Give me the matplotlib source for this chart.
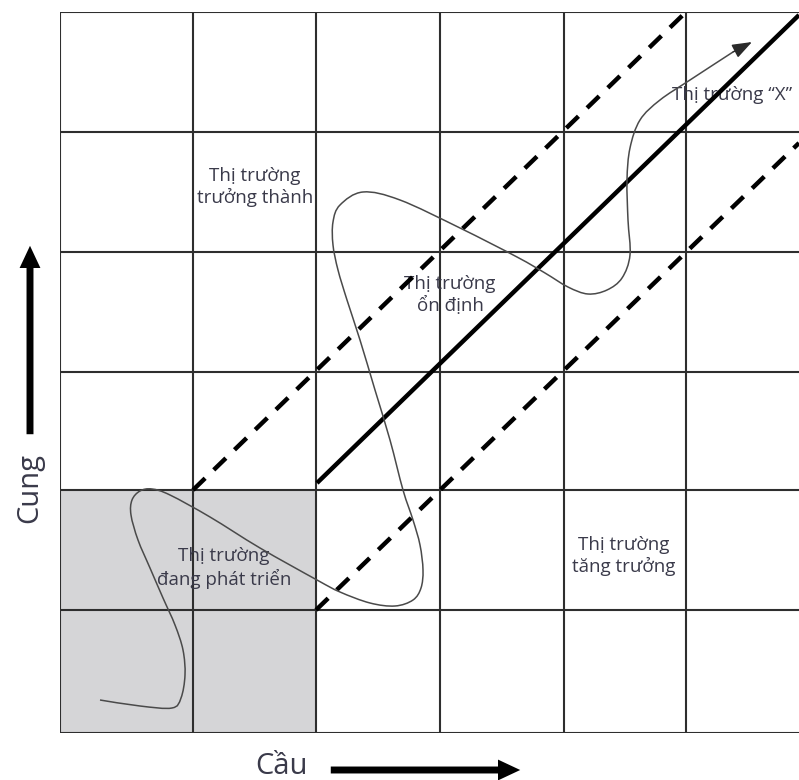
import matplotlib
matplotlib.use("Agg")
import numpy as np
import matplotlib.pyplot as plt
from matplotlib.patches import Rectangle, PathPatch, FancyArrowPatch
from matplotlib.path import Path

plt.rcParams['font.family'] = ['Open Sans', 'DejaVu Sans']

# ------------------------------
# Data (picture pixels -> data units: x from left border, y from bottom border)
# ------------------------------
col_edges = [0, 133, 256, 380, 504, 626]
row_edges = [0, 123, 243, 361, 481, 601, 721]

# shaded "developing market" block
shade_x = [0, 256]
shade_y = [0, 243]

# solid centre diagonal and the two dashed bounds
solid_x = [257, 739]
solid_y = [250, 718]
upper_dash_x = [133, 626]
upper_dash_y = [243, 721]
lower_dash_x = [256, 739]
lower_dash_y = [123, 590]

# the winding market path (ends in an arrow)
path_x = [40, 80, 112, 121, 125, 123, 115, 103, 90, 78, 71, 72, 80, 92, 110,
          150, 200, 257, 280, 310, 335, 353, 361, 363, 360, 353, 343, 330,
          315, 300, 287, 278, 273, 273, 280, 303, 340, 400, 457, 485, 508,
          528, 547, 562, 570, 568, 567, 570, 580, 600, 630, 673, 692]
path_y = [33, 27, 25, 35, 58, 83, 108, 135, 165, 193, 218, 233, 242, 244, 238,
          216, 185, 153, 141, 130, 127, 133, 145, 163, 188, 213, 243, 293,
          343, 393, 433, 463, 488, 511, 528, 541, 533, 505, 476, 460, 446,
          439, 443, 455, 478, 513, 553, 585, 613, 633, 653, 681, 691]

labels = ["Thị trường\ntrưởng thành", "Thị trường\nổn định",
          "Thị trường\nđang phát triển", "Thị trường\ntăng trưởng",
          "Thị trường “X”"]
label_x = [195, 390, 164, 564, 672]
label_y = [546, 438, 165, 177, 638]


def smooth_path(xs, ys):
    # Catmull-Rom through the points, handed to matplotlib as cubic Beziers
    pts = np.column_stack([xs, ys]).astype(float)
    n = len(pts)
    verts = [pts[0]]
    codes = [Path.MOVETO]
    for i in range(n - 1):
        p0 = pts[max(i - 1, 0)]
        p1 = pts[i]
        p2 = pts[i + 1]
        p3 = pts[min(i + 2, n - 1)]
        verts += [p1 + (p2 - p0) / 6, p2 - (p3 - p1) / 6, p2]
        codes += [Path.CURVE4] * 3
    return Path(verts, codes)


# ------------------------------
# Figure
# ------------------------------
fig = plt.figure(figsize=(7.99, 7.80), dpi=100)
ax = fig.add_axes([60 / 799, 47 / 780, 739 / 799, 721 / 780])
ax.set_xlim(0, 739)
ax.set_ylim(0, 721)
ax.axis('off')

grid_kw = dict(color='#2e2e2e', lw=1.5, zorder=2)

ax.add_patch(Rectangle((shade_x[0], shade_y[0]), shade_x[1] - shade_x[0],
                       shade_y[1] - shade_y[0], facecolor='#d5d5d7',
                       edgecolor='none', zorder=1))

for x in col_edges:
    ax.plot([x, x], [row_edges[0], row_edges[-1]], **grid_kw)
for y in row_edges:
    ax.plot([0, 739], [y, y], **grid_kw)

# market labels
for txt, lx, ly in zip(labels, label_x, label_y):
    ax.text(lx, ly, txt, ha='center', va='center', multialignment='center',
            fontsize=13.5, color='#3a3a4a', linespacing=1.25, zorder=3)

# diagonals
ax.plot(solid_x, solid_y, color='black', lw=3.2, solid_capstyle='butt',
        zorder=4)
ax.plot(upper_dash_x, upper_dash_y, color='black', lw=3.2,
        dashes=(3.8, 2.7), zorder=4)
ax.plot(lower_dash_x, lower_dash_y, color='black', lw=3.2,
        dashes=(3.8, 2.7), zorder=4)

# winding path with arrow head
ax.add_patch(PathPatch(smooth_path(path_x[:-1], path_y[:-1]), facecolor='none',
                       edgecolor='#4a4a4a', lw=1.1, zorder=5))
ax.annotate('', xy=(path_x[-1], path_y[-1]), xytext=(path_x[-2], path_y[-2]),
            arrowprops=dict(arrowstyle='-|>,head_length=0.6,head_width=0.22',
                            mutation_scale=20, color='#2a2a2a', lw=1.1,
                            shrinkA=0, shrinkB=0), zorder=5)

# ------------------------------
# Axis names with arrows
# ------------------------------
arrow_style = 'simple,tail_width=0.5,head_width=1.5,head_length=1.6'
fig.text(30 / 799, (780 - 488) / 780, 'Cung', rotation=90, ha='center',
         va='center', fontsize=21, color='#3a3a4a')
fig.patches.append(FancyArrowPatch(
    (30 / 799, (780 - 437) / 780), (30 / 799, (780 - 243) / 780),
    transform=fig.transFigure, arrowstyle=arrow_style, mutation_scale=10,
    color='black', lw=0))

fig.text(255 / 799, 6 / 780, 'Cầu', ha='left', va='baseline', fontsize=21,
         color='#3a3a4a')
fig.patches.append(FancyArrowPatch(
    (328 / 799, 10 / 780), (523 / 799, 10 / 780),
    transform=fig.transFigure, arrowstyle=arrow_style, mutation_scale=10,
    color='black', lw=0))

fig.savefig('out.png', dpi=100, facecolor='white')
